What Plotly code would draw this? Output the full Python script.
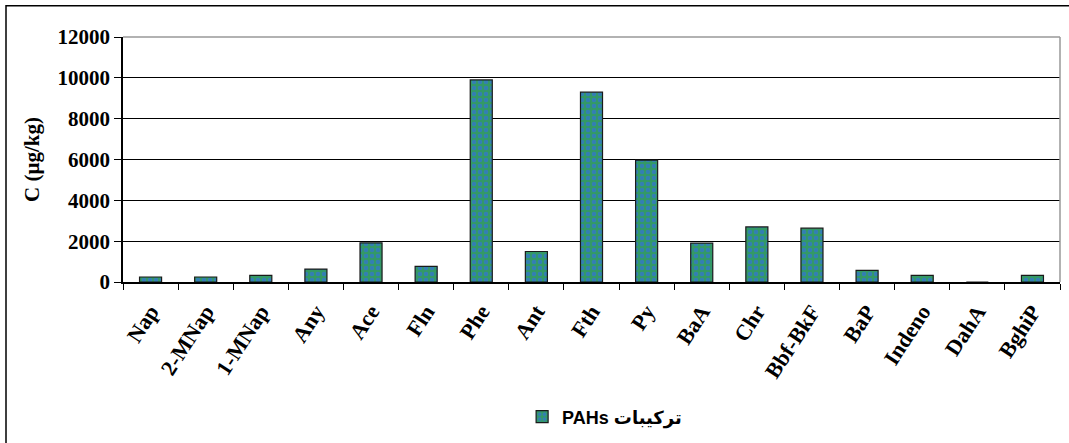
import plotly.graph_objs as go

compounds = ['Nap', '2-MNap', '1-MNap', 'Any', 'Ace', 'Fln', 'Phe', 'Ant', 'Fth',
             'Py', 'BaA', 'Chr', 'Bbf-BkF', 'BaP', 'Indeno', 'DahA', 'BghiP']
conc = [245, 245, 325, 635, 1920, 765, 9900, 1495, 9300,
        5970, 1905, 2700, 2635, 570, 325, 0, 325]
y_ticks = [0, 2000, 4000, 6000, 8000, 10000, 12000]

W, H = 1069, 443
ml, mr, mt, mb = 123, 9, 37, 160
pw, ph = W - ml - mr, H - mt - mb


def px_x(x):
    return (x - ml) / pw


def px_y(y):
    return (H - mb - y) / ph


fig = go.Figure(
    data=[
        go.Bar(
            x=compounds,
            y=conc,
            name='PAHs ترکیبات',
            marker=dict(
                color='#339966',
                line=dict(color='#1a1a1a', width=1.2),
                pattern=dict(shape='.', fgcolor='#3366ff', bgcolor='#339966',
                             size=6, solidity=0.45)
            )
        )
    ],
    layout=go.Layout(
        width=W,
        height=H,
        margin=dict(l=ml, r=mr, t=mt, b=mb),
        plot_bgcolor='white',
        paper_bgcolor='white',
        bargap=0.6,
        font=dict(family='Liberation Serif', color='black'),
        xaxis=dict(
            showgrid=False,
            showline=True,
            linecolor='black',
            linewidth=2,
            ticks='outside',
            tickson='boundaries',
            ticklen=6,
            tickcolor='black',
            tickangle=-57,
            ticklabelstandoff=6,
            tickfont=dict(family='Liberation Serif', size=22, weight='bold'),
        ),
        yaxis=dict(
            range=[0, 12000],
            tickvals=y_ticks,
            ticktext=[str(v) for v in y_ticks],
            showgrid=True,
            gridcolor='black',
            gridwidth=1,
            zeroline=False,
            showline=True,
            linecolor='black',
            linewidth=1.5,
            ticks='outside',
            ticklen=7,
            tickcolor='black',
            tickfont=dict(family='Liberation Serif', size=21, weight='bold'),
            title=dict(text='C (µg/kg)',
                       font=dict(family='Liberation Serif', size=21, weight='bold'),
                       standoff=12),
        ),
        showlegend=True,
        legend=dict(
            orientation='h',
            x=0.514,
            xanchor='center',
            y=px_y(417),
            yanchor='middle',
            font=dict(family='Liberation Sans, DejaVu Sans', size=18, weight='bold'),
        ),
        shapes=[
            # plot area border (grey, top and right)
            dict(type='line', xref='paper', yref='paper', x0=0, x1=1, y0=1, y1=1,
                 line=dict(color='#999999', width=1.5), layer='above'),
            dict(type='line', xref='paper', yref='paper', x0=1, x1=1, y0=0, y1=1,
                 line=dict(color='#999999', width=1.5), layer='above'),
            # chart border
            dict(type='rect', xref='paper', yref='paper',
                 x0=px_x(6), x1=px_x(W + 10), y0=px_y(H + 10), y1=px_y(5.5),
                 line=dict(color='black', width=1.5), layer='below'),
        ],
    )
)

fig.write_html('out.html', config=dict(displayModeBar=False),
               post_script="document.body.style.margin='0';")
